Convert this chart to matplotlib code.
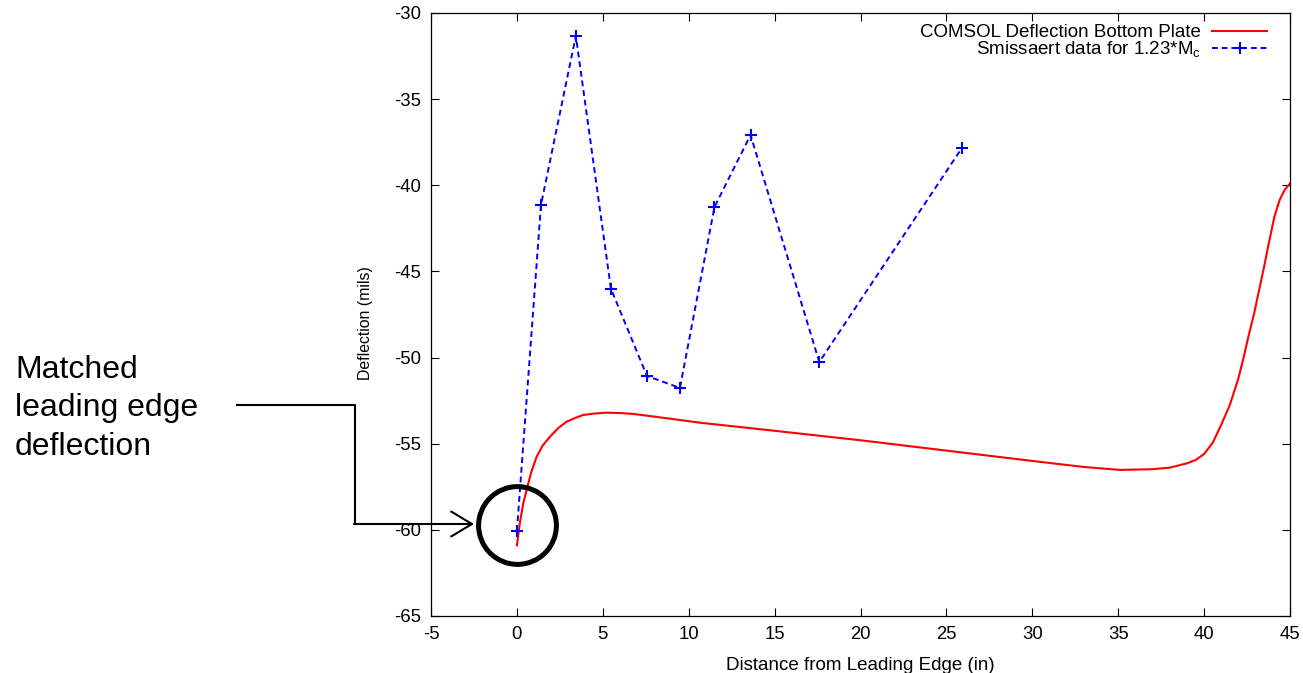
import numpy as np
import matplotlib
matplotlib.use('Agg')
from matplotlib import pyplot as plt
from matplotlib.lines import Line2D

plt.rcParams['font.family'] = ['Liberation Sans', 'DejaVu Sans']
plt.rcParams['mathtext.default'] = 'regular'
plt.rcParams['axes.unicode_minus'] = False

# COMSOL deflection of the bottom plate
comsol_x = [0, 0.17, 0.37, 0.56, 0.66, 0.85, 1.15, 1.5, 1.92, 2.4, 2.89,
            3.4, 3.86, 4.5, 5.22, 6.0, 6.77, 8.71, 10.65, 15.0, 20.0, 25.0,
            30.0, 33.0, 35.1, 37.0, 38.0, 39.0, 39.5, 40.0, 40.5, 41.0,
            41.5, 42.0, 42.3, 42.6, 42.9, 43.2, 43.5, 43.8, 44.1, 44.4,
            44.7, 45.0]
comsol_y = [-60.9, -59.6, -58.45, -57.7, -57.3, -56.6, -55.75, -55.1, -54.6,
            -54.1, -53.72, -53.5, -53.33, -53.25, -53.2, -53.22, -53.27,
            -53.52, -53.78, -54.25, -54.8, -55.4, -56.0, -56.35, -56.52,
            -56.48, -56.39, -56.14, -55.95, -55.6, -54.95, -53.9, -52.75,
            -51.2, -50.0, -48.7, -47.5, -46.1, -44.7, -43.2, -41.8, -40.85,
            -40.25, -39.9]

# Smissaert measured data
smiss_x = [0.0, 1.4, 3.43, 5.47, 7.57, 9.49, 11.5, 13.6, 17.6, 25.9]
smiss_y = [-60.06, -41.14, -31.33, -46.0, -51.07, -51.76, -41.26, -37.08,
           -50.26, -37.84]

x_ticks = np.arange(-5, 46, 5)
y_ticks = np.arange(-65, -29, 5)

fig = plt.figure(figsize=(13.03, 6.73), dpi=100)
ax = fig.add_axes([0.3308, 0.0847, 0.6592, 0.896])

ax.plot(comsol_x, comsol_y, color='#ff0000', lw=1.5,
        label='COMSOL Deflection Bottom Plate')
ax.plot(smiss_x, smiss_y, color='#0000ff', lw=1.4, dashes=(3, 2),
        marker='+', ms=8, mew=1.5,
        label='Smissaert data for 1.23*M$_c$')

ax.set_xlim(-5, 45)
ax.set_ylim(-65, -30)
ax.set_xticks(x_ticks)
ax.set_yticks(y_ticks)
ax.tick_params(direction='in', length=6, width=0.8, top=True, right=True,
               labelsize=13.3, pad=7)
for s in ax.spines.values():
    s.set_linewidth(0.9)

ax.set_xlabel('Distance from Leading Edge (in)', fontsize=13.5, labelpad=10)
ax.set_ylabel('Deflection (mils)', fontsize=11.4)
ax.yaxis.set_label_coords(-0.0675, 0.486)

ax.legend(loc='upper right', bbox_to_anchor=(1 - 10 / 859, 1 + 2 / 603),
          frameon=False, markerfirst=False,
          fontsize=13.5, handlelength=2.9, handletextpad=0.6,
          labelspacing=-0.11, borderaxespad=0.3)

# highlight circle around the leading edge point
ax.plot([smiss_x[0]], [-59.72], marker='o', ms=56, mfc='none', mec='black',
        mew=3.6, clip_on=False)

# annotation text and elbow connector (figure pixels)
W, H = 1303, 673


def fp(px, py):
    return px / W, 1 - py / H


fig.text(*fp(15, 355), 'Matched\nleading edge\ndeflection', fontsize=23,
         va='top', ha='left', linespacing=1.36)

xs, ys = zip(fp(237, 405), fp(355, 405), fp(355, 524))
fig.add_artist(Line2D(xs, ys, color='black', lw=1.5,
                      transform=fig.transFigure))
ax.annotate('', xy=fp(474, 524), xycoords='figure fraction',
            xytext=fp(354, 524), textcoords='figure fraction',
            arrowprops=dict(arrowstyle='->,head_length=0.75,head_width=0.45',
                            lw=1.5, color='black', mutation_scale=20,
                            shrinkA=0, shrinkB=0))

fig.savefig('out.png', dpi=100)
